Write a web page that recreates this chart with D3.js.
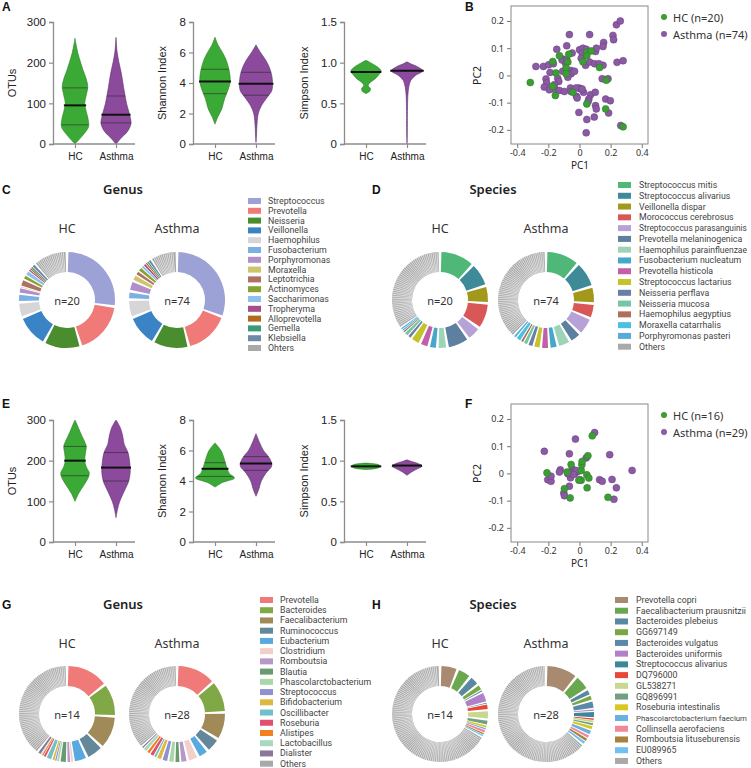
<!DOCTYPE html>
<html>
<head>
<meta charset="utf-8">
<script src="https://cdn.jsdelivr.net/npm/d3@7"></script>
<style>
  body { margin: 0; background: #fff; }
  svg { display: block; }
</style>
</head>
<body>
<div class="container"></div>
<script>
const groups = ["HC", "Asthma"];

// ---- violin profiles: [value, relative half width] ----
const otusHcA = [[0,0],[12,0.3],[25,0.6],[42,0.9],[60,0.88],[80,0.75],[100,0.65],[120,0.75],[140,0.85],[160,0.75],[180,0.55],[200,0.38],[222,0.2],[245,0.07],[260,0]];
const otusAsA = [[0,0],[15,0.35],[30,0.75],[50,1.0],[65,0.95],[80,0.85],[100,0.7],[120,0.6],[140,0.5],[160,0.42],[180,0.32],[200,0.2],[225,0.08],[262,0]];
const shannonHcA = [[1.3,0],[1.8,0.2],[2.3,0.45],[3,0.65],[3.5,0.85],[4,1.0],[4.5,1.0],[5,0.9],[5.5,0.75],[6,0.5],[6.5,0.2],[7,0]];
const shannonAsA = [[0.1,0],[0.5,0.03],[1,0.05],[1.5,0.08],[2,0.15],[2.5,0.35],[3,0.7],[3.5,1.05],[4,1.1],[4.5,1.05],[5,0.9],[5.5,0.65],[6,0.3],[6.5,0]];
const simpsonHcA = [[0.62,0],[0.65,0.25],[0.68,0.3],[0.72,0.15],[0.76,0.3],[0.8,0.6],[0.85,0.85],[0.9,1.0],[0.95,0.75],[1.0,0.3],[1.03,0]];
const simpsonAsA = [[0,0],[0.1,0.02],[0.4,0.03],[0.6,0.06],[0.7,0.12],[0.78,0.25],[0.84,0.55],[0.9,1.05],[0.95,0.7],[0.99,0.2],[1.01,0]];
const mediansA = { otus: [95, 72], shannon: [4.1, 3.95], simpson: [0.885, 0.9] };
const quartilesA = { otus: [[47,138],[52,118]], shannon: [[3.3,4.9],[3.2,4.7]], simpson: null };

const otusHcE = [[100,0],[120,0.25],[140,0.6],[160,0.9],[170,0.95],[185,0.75],[200,0.65],[220,0.7],[235,0.75],[250,0.6],[270,0.35],[290,0.12],[300,0]];
const otusAsE = [[60,0],[80,0.1],[100,0.25],[125,0.55],[150,0.85],[175,0.95],[200,0.9],[220,0.8],[240,0.55],[260,0.45],[280,0.3],[300,0]];
const shannonHcE = [[3.6,0],[3.9,0.5],[4.2,1.3],[4.5,0.95],[5,0.75],[5.5,0.6],[6,0.4],[6.5,0]];
const shannonAsE = [[3.0,0],[3.5,0.2],[4,0.35],[4.5,0.65],[5,1.05],[5.5,0.9],[6,0.5],[6.5,0.25],[7.1,0]];
const simpsonHcE = [[0.89,0],[0.91,0.8],[0.93,0.95],[0.95,0.85],[0.97,0]];
const simpsonAsE = [[0.82,0],[0.86,0.3],[0.9,0.7],[0.93,1.0],[0.96,0.8],[0.99,0.3],[1.01,0]];
const mediansE = { otus: [200, 183], shannon: [4.8, 5.15], simpson: [0.93, 0.94] };
const quartilesE = { otus: [[163,235],[150,220]], shannon: [[4.3,5.2],[4.7,5.6]], simpson: null };

const otusTicks = [0, 100, 200, 300];
const shannonTicks = [0, 2, 4, 6, 8];
const simpsonTicks = [0, 0.5, 1.0, 1.5];

// ---- PCoA points [PC1, PC2] ----
const pcoaHcB = [[-0.316,-0.026],[-0.172,0.051],[-0.129,0.072],[-0.069,0.078],[-0.075,0.049],[-0.151,0.009],[-0.086,0.027],[-0.086,0.006],[-0.172,-0.040],[-0.155,-0.074],[-0.043,-0.062],[0.047,0.085],[0.075,0.090],[0.047,0.072],[0.022,0.050],[0.129,0.029],[0.172,-0.018],[0.047,-0.105],[0.168,-0.123],[0.280,-0.189]];
const pcoaAsB = [[-0.280,0.033],[-0.232,0.033],[-0.198,0.039],[-0.168,0.043],[-0.215,-0.013],[-0.211,-0.028],[-0.226,-0.043],[-0.189,0.011],[-0.146,0.096],[-0.065,0.150],[-0.082,0.109],[-0.047,0.082],[-0.108,0.060],[-0.090,0.045],[-0.108,0.015],[-0.054,0.018],[-0.054,0.006],[-0.140,-0.010],[-0.133,-0.022],[-0.161,-0.034],[-0.155,-0.053],[-0.129,-0.055],[-0.097,-0.059],[-0.058,-0.046],[-0.054,-0.059],[-0.019,-0.077],[-0.015,-0.083],[0.000,0.094],[0.022,0.100],[0.017,0.082],[0.011,0.063],[0.039,0.037],[0.065,0.049],[0.097,0.043],[0.103,0.088],[0.108,0.100],[0.065,0.150],[0.155,0.121],[0.151,0.106],[0.215,0.147],[0.219,0.131],[0.237,0.186],[0.262,0.200],[0.241,0.048],[0.280,0.054],[0.151,0.037],[0.146,-0.012],[0.183,-0.012],[-0.004,-0.046],[0.011,-0.050],[0.026,-0.062],[0.071,-0.071],[0.101,-0.062],[0.060,-0.087],[0.056,-0.095],[0.103,-0.111],[0.108,-0.123],[0.168,-0.087],[0.198,-0.093],[0.187,-0.138],[-0.004,-0.136],[0.047,-0.162],[0.095,-0.153],[0.043,-0.211],[0.265,-0.184],[-0.112,0.057],[-0.032,0.015],[-0.075,-0.007],[-0.022,-0.046],[0.017,-0.050],[0.043,0.096],[0.125,0.043],[-0.194,-0.053],[-0.082,0.057]];
const pcoaHcF = [[-0.209,0.002],[-0.080,0.005],[-0.054,0.033],[-0.097,-0.056],[-0.060,-0.090],[0.011,0.011],[0.015,0.032],[0.017,0.044],[0.011,-0.025],[0.047,-0.005],[0.060,-0.017],[0.054,0.065],[0.049,-0.053],[0.082,0.138],[0.183,-0.088],[-0.004,-0.025]];
const pcoaAsF = [[-0.226,0.081],[-0.204,-0.023],[-0.183,-0.029],[-0.183,-0.010],[-0.123,0.013],[-0.129,0.005],[-0.065,0.072],[-0.026,0.126],[0.097,0.150],[0.043,0.057],[-0.047,0.017],[-0.043,0.005],[-0.028,0.001],[-0.011,0.007],[-0.058,-0.016],[-0.065,-0.047],[-0.101,-0.072],[-0.097,-0.082],[0.129,-0.023],[0.146,-0.029],[0.209,-0.022],[0.237,-0.053],[0.221,-0.095],[0.194,0.069],[0.338,0.011],[0.000,-0.023],[-0.022,0.011],[-0.039,-0.004],[-0.075,-0.001]];
const pcoaTicks = [-0.4, -0.2, 0, 0.2, 0.4];
const pcoaYTicks = [-0.2, -0.1, 0, 0.1, 0.2];

// ---- composition (share of circle, degrees) ----
const genusC = ["Streptococcus","Prevotella","Neisseria","Veillonella","Haemophilus","Fusobacterium","Porphyromonas","Moraxella","Leptotrichia","Actinomyces","Saccharimonas","Tropheryma","Alloprevotella","Gemella","Klebsiella","Ohters"];
const genusHcC = [93, 62, 43, 38, 18, 10, 7, 1, 9, 5, 6, 2, 2, 2, 4, 40];
const genusAsC = [100, 50, 40, 35, 20, 9, 12, 7, 5, 5, 3, 3, 2, 2, 3, 30];
const genusColorsC = ["#9da2d6","#f07a77","#4a8d2e","#3a84c6","#d6d6d6","#7db0e2","#b18fc9","#cfc46a","#b07066","#89a22f","#8dc0ea","#a64f8a","#b5691f","#3a9a78","#6e88a8","#a9a9a9"];

const speciesD = ["Streptococcus mitis","Streptococcus alivarius","Veillonella dispar","Morococcus cerebrosus","Streptococcus parasanguinis","Prevotella melaninogenica","Haemophilus parainfluenzae","Fusobacterium nucleatum","Prevotella histicola","Streptococcus lactarius","Neisseria perflava","Neisseria mucosa","Haemophilus aegyptius","Moraxella catarrhalis","Porphyromonas pasteri","Others"];
const speciesHcD = [38, 26, 19, 28, 16, 24, 11, 9, 10, 11, 4, 5, 2, 2, 2, 111];
const speciesAsD = [36, 28, 18, 16, 19, 13, 14, 9, 9, 8, 6, 5, 3, 6, 3, 120];
const speciesColorsD = ["#4fb879","#3f8a99","#a2981b","#d85858","#b6a2d6","#5d7fa0","#9dd4b8","#45a8cb","#c25fa8","#c4c42a","#6a7fa6","#76c6a6","#b06f57","#4cc0e2","#5aaad8","#a9a9a9"];

const genusG = ["Prevotella","Bacteroides","Faecalibacterium","Ruminococcus","Eubacterium","Clostridium","Romboutsia","Blautia","Phascolarctobacterium","Streptococcus","Bifidobacterium","Oscillibacter","Roseburia","Alistipes","Lactobacillus","Dialister","Others"];
const genusHcG = [46, 36, 36, 19, 15, 3, 4, 8, 3, 2, 3, 7, 3, 2, 1, 4, 126];
const genusAsG = [43, 35, 30, 16, 12, 12, 8, 6, 7, 7, 6, 3, 5, 4, 5, 2, 118];
const genusColorsG = ["#ef7a77","#80a846","#a08a58","#64889a","#5aa8e0","#f0d0c8","#b898c8","#6a9a70","#a8d8a8","#9090d0","#e0b840","#70c0c8","#e05070","#f08020","#a8d8c0","#8a7898","#a9a9a9"];

const speciesH = ["Prevotella copri","Faecalibacterium prausnitzii","Bacteroides plebeius","GG697149","Bacteroides vulgatus","Bacteroides uniformis","Streptococcus alivarius","DQ796000","GL538271","GQ896991","Roseburia intestinalis","Phascolarctobacterium faecium","Collinsella aerofaciens","Romboutsia lituseburensis","EU089965","Others"];
const speciesHcH = [20, 16, 12, 7, 2, 13, 1, 7, 11, 6, 3, 2, 4, 2, 2, 222];
const speciesAsH = [36, 18, 7, 6, 10, 2, 8, 2, 3, 3, 5, 6, 4, 4, 4, 211];
const speciesColorsH = ["#a88a70","#6aa850","#5a88a0","#78a840","#5a88a8","#b080c8","#3a8898","#e84838","#c8d890","#70a080","#d8c820","#6ab0e0","#f08898","#a88040","#70c0f0","#a9a9a9"];

const sampleSizes = { C: [20, 74], D: [20, 74], G: [14, 28], H: [14, 28] };

// ---------------------------------------------------------------
const width = 751, height = 768;
const svg = d3.select(".container").append("svg")
  .attr("width", width).attr("height", height)
  .style("font-family", "'Liberation Sans', Arial, sans-serif");

const groupFill = ["#3ba935", "#8b4a9c"];
const groupStroke = ["#2c7d27", "#5e2f6c"];
const axisColor = "#8c8c8c";
const donutFont = "'Noto Sans', 'Open Sans', sans-serif";
const legendFont = "Roboto, 'Noto Sans', sans-serif";

function panelLetter(t, x, y) {
  svg.append("text").attr("x", x).attr("y", y)
    .attr("font-weight", "bold").attr("font-size", 12).attr("fill", "#111")
    .text(t);
}

// width of a profile at a value (linear between points)
function widthAt(profile, v) {
  for (let i = 1; i < profile.length; i++) {
    const [v0, w0] = profile[i - 1], [v1, w1] = profile[i];
    if (v >= v0 && v <= v1) return w0 + (w1 - w0) * (v - v0) / (v1 - v0);
  }
  return 0;
}

function violinPanel(left, top, bottom, maxV, ticks, fmt, title, titleX, profiles, medians, quartiles) {
  const g = svg.append("g");
  const y = d3.scaleLinear().domain([0, maxV]).range([bottom, top]);
  const x = d3.scalePoint().domain(groups).range([left + 22, left + 63]);
  const w = d3.scaleLinear().domain([0, 1]).range([0, 15]);

  profiles.forEach((prof, i) => {
    const cx = x(groups[i]);
    const path = d3.area()
      .x0(d => cx - w(d[1])).x1(d => cx + w(d[1]))
      .y(d => y(d[0]))
      .curve(d3.curveCatmullRom.alpha(0.5));
    g.append("path").datum(prof)
      .attr("d", path)
      .attr("fill", groupFill[i])
      .attr("stroke", groupStroke[i]).attr("stroke-width", 0.6);

    if (quartiles) {
      quartiles[i].forEach(q => {
        const hw = w(widthAt(prof, q));
        g.append("line")
          .attr("x1", cx - hw).attr("x2", cx + hw)
          .attr("y1", y(q)).attr("y2", y(q))
          .attr("stroke", "#2a2a2a").attr("stroke-width", 0.6);
      });
    }
    const mhw = w(widthAt(prof, medians[i]));
    g.append("line")
      .attr("x1", cx - mhw - 1).attr("x2", cx + mhw + 1)
      .attr("y1", y(medians[i])).attr("y2", y(medians[i]))
      .attr("stroke", "#111").attr("stroke-width", 2);
  });

  const yAxis = d3.axisLeft(y).tickValues(ticks).tickSize(4).tickPadding(3).tickFormat(fmt);
  const ya = g.append("g").attr("transform", `translate(${left},0)`).call(yAxis);
  const xAxis = d3.axisBottom(x).tickSize(4).tickPadding(5);
  const xa = g.append("g").attr("transform", `translate(0,${bottom})`).call(xAxis);
  xa.select(".domain").remove();
  g.append("line").attr("x1", left).attr("x2", left + 82)
    .attr("y1", bottom).attr("y2", bottom)
    .attr("stroke", axisColor).attr("stroke-width", 1.3);
  [ya, xa].forEach(a => {
    a.selectAll(".domain").attr("stroke", axisColor).attr("stroke-width", 1.3);
    a.selectAll(".tick line").attr("stroke", axisColor).attr("stroke-width", 1.2);
    a.selectAll("text").attr("fill", "#222").attr("font-family", "'Liberation Sans', Arial, sans-serif");
  });
  ya.selectAll("text").attr("font-size", 11.5);
  xa.selectAll("text").attr("font-size", 10);

  g.append("text")
    .attr("transform", `translate(${titleX},${(top + bottom) / 2}) rotate(-90)`)
    .attr("text-anchor", "middle").attr("dominant-baseline", "middle")
    .attr("font-size", 11).attr("fill", "#222").text(title);
}

function pcoaPanel(top, hcPts, asPts, nHc, nAs) {
  const g = svg.append("g");
  const bottom = top + 138;
  const x = d3.scaleLinear().domain([-0.44, 0.44]).range([511, 648]);
  const y = d3.scaleLinear().domain([-0.252, 0.255]).range([bottom, top]);
  const fmt = d => d === 0 ? "0" : String(d);

  const ya = g.append("g").attr("transform", "translate(511,0)")
    .call(d3.axisLeft(y).tickValues(pcoaYTicks).tickSize(4).tickPadding(3).tickFormat(fmt));
  const xa = g.append("g").attr("transform", `translate(0,${bottom})`)
    .call(d3.axisBottom(x).tickValues(pcoaTicks).tickSize(4).tickPadding(2).tickFormat(fmt));
  [ya, xa].forEach(a => {
    a.select(".domain").remove();
    a.selectAll(".tick line").attr("stroke", "#777");
    a.selectAll("text").attr("font-size", 9).attr("fill", "#333")
      .attr("font-family", donutFont);
  });
  g.append("rect").attr("x", 511).attr("y", top)
    .attr("width", 137).attr("height", 138)
    .attr("fill", "none").attr("stroke", "#888").attr("stroke-width", 1);

  g.selectAll("circle.as").data(asPts).enter().append("circle")
    .attr("cx", d => x(d[0])).attr("cy", d => y(d[1])).attr("r", 3.5)
    .attr("fill", "#8a5aa2").attr("stroke", "#6a3e82").attr("stroke-width", 0.5);
  g.selectAll("circle.hc").data(hcPts).enter().append("circle")
    .attr("cx", d => x(d[0])).attr("cy", d => y(d[1])).attr("r", 3.5)
    .attr("fill", "#3d9d35").attr("stroke", "#2a7a25").attr("stroke-width", 0.5);

  g.append("text").attr("x", 580).attr("y", bottom + 25)
    .attr("text-anchor", "middle").attr("font-size", 10).attr("fill", "#222")
    .attr("font-family", donutFont).text("PC1");
  g.append("text")
    .attr("transform", `translate(481,${y(0)}) rotate(-90)`)
    .attr("text-anchor", "middle").attr("font-size", 10.5).attr("fill", "#222")
    .attr("font-family", donutFont).text("PC2");

  const leg = [[`HC (n=${nHc})`, "#3d9d35"], [`Asthma (n=${nAs})`, "#8a5aa2"]];
  leg.forEach((d, i) => {
    const ly = top + 11 + i * 17;
    g.append("circle").attr("cx", 664).attr("cy", ly).attr("r", 3).attr("fill", d[1]);
    g.append("text").attr("x", 673).attr("y", ly).attr("dominant-baseline", "central")
      .attr("font-size", 11).attr("fill", "#333").attr("font-family", donutFont).text(d[0]);
  });
}

function donut(cx, cy, values, colors, n) {
  const g = svg.append("g").attr("transform", `translate(${cx},${cy})`);
  const slices = d3.pie().sort(null).value(d => d)(values);
  const arc = d3.arc().innerRadius(28).outerRadius(48);
  const last = slices.length - 1;
  slices.forEach((s, i) => {
    const size = s.endAngle - s.startAngle;
    const gap = Math.min(0.06, size * 0.3) / 2;
    const a0 = s.startAngle + gap, a1 = s.endAngle - gap;
    g.append("path").attr("d", arc({ startAngle: a0, endAngle: a1 }))
      .attr("fill", colors[i]);
    if (i === last) {
      // many small taxa lumped together: thin white separators
      const step = 0.042;
      for (let a = a0 + step; a < a1 - step / 2; a += step) {
        const sx = Math.sin(a), sy = -Math.cos(a);
        g.append("line")
          .attr("x1", 28 * sx).attr("y1", 28 * sy)
          .attr("x2", 48 * sx).attr("y2", 48 * sy)
          .attr("stroke", "#fff").attr("stroke-width", 0.6);
      }
    }
  });
  g.append("text").attr("text-anchor", "middle").attr("dominant-baseline", "central")
    .attr("font-size", 11).attr("fill", "#333").attr("font-family", donutFont)
    .text(`n=${n}`);
}

function compositionPanel(letter, letterX, titleX, titleY, title, hcX, asX, cy, hcVals, asVals, colors, names, n, legSwX, legTxX, legY0, legStep) {
  panelLetter(letter, letterX, titleY);
  svg.append("text").attr("x", titleX).attr("y", titleY).attr("text-anchor", "middle")
    .attr("font-size", 13).attr("font-weight", 600).attr("fill", "#222")
    .attr("font-family", donutFont).text(title);
  [[hcX, "HC"], [asX, "Asthma"]].forEach(d => {
    svg.append("text").attr("x", d[0]).attr("y", titleY + 39).attr("text-anchor", "middle")
      .attr("font-size", 12.5).attr("fill", "#333").attr("font-family", donutFont).text(d[1]);
  });
  donut(hcX, cy, hcVals, colors, n[0]);
  donut(asX, cy, asVals, colors, n[1]);
  const leg = svg.append("g");
  const maxW = width - legTxX - 4;
  names.forEach((nm, i) => {
    const ly = legY0 + i * legStep;
    leg.append("rect").attr("x", legSwX).attr("y", ly - 3).attr("width", 13).attr("height", 6)
      .attr("fill", colors[i]);
    const t = leg.append("text").attr("x", legTxX).attr("y", ly + 3)
      .attr("font-size", 8.8).attr("fill", "#444").attr("font-family", legendFont).text(nm);
    const len = t.node().getComputedTextLength();
    if (len > maxW) t.attr("font-size", (8.8 * maxW / len).toFixed(2));
  });
}

// ---- A ----
panelLetter("A", 2, 11);
const f0 = d => String(d);
const fSimp = d => d === 0 ? "0" : d.toFixed(1);
violinPanel(53, 22, 144, 300, otusTicks, f0, "OTUs", 13, [otusHcA, otusAsA], mediansA.otus, quartilesA.otus);
violinPanel(193, 22, 144, 8, shannonTicks, f0, "Shannon Index", 163, [shannonHcA, shannonAsA], mediansA.shannon, quartilesA.shannon);
violinPanel(344, 22, 144, 1.5, simpsonTicks, fSimp, "Simpson Index", 305, [simpsonHcA, simpsonAsA], mediansA.simpson, quartilesA.simpson);

// ---- B ----
panelLetter("B", 465, 11);
pcoaPanel(6, pcoaHcB, pcoaAsB, 20, 74);

// ---- C, D ----
compositionPanel("C", 2, 123, 194, "Genus", 67, 177, 300, genusHcC, genusAsC, genusColorsC, genusC, sampleSizes.C, 248, 268, 201, 9.8);
compositionPanel("D", 372, 493, 194, "Species", 440, 546, 300, speciesHcD, speciesAsD, speciesColorsD, speciesD, sampleSizes.D, 618, 639, 185, 10.78);

// ---- E ----
panelLetter("E", 2, 408);
violinPanel(53, 420, 542, 300, otusTicks, f0, "OTUs", 13, [otusHcE, otusAsE], mediansE.otus, quartilesE.otus);
violinPanel(193, 420, 542, 8, shannonTicks, f0, "Shannon Index", 163, [shannonHcE, shannonAsE], mediansE.shannon, quartilesE.shannon);
violinPanel(344, 420, 542, 1.5, simpsonTicks, fSimp, "Simpson Index", 305, [simpsonHcE, simpsonAsE], mediansE.simpson, quartilesE.simpson);

// ---- F ----
panelLetter("F", 465, 408);
pcoaPanel(404, pcoaHcF, pcoaAsF, 16, 29);

// ---- G, H ----
compositionPanel("G", 2, 123, 609, "Genus", 67, 177, 714, genusHcG, genusAsG, genusColorsG, genusG, sampleSizes.G, 260, 280, 600, 10.23);
compositionPanel("H", 372, 493, 609, "Species", 440, 546, 714, speciesHcH, speciesAsH, speciesColorsH, speciesH, sampleSizes.H, 615, 636, 600, 10.73);
</script>
</body>
</html>
